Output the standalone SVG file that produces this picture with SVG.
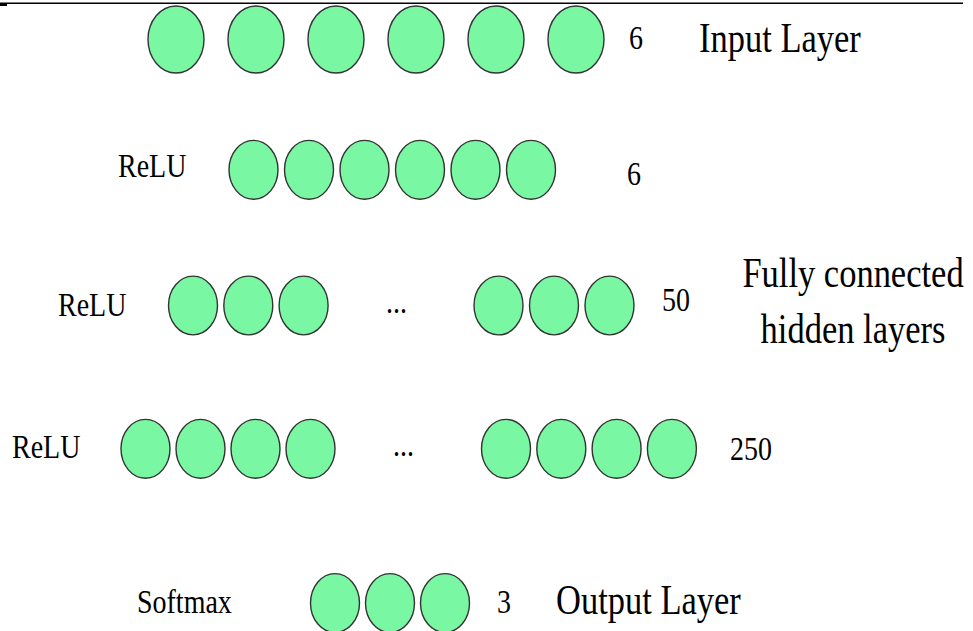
<svg xmlns="http://www.w3.org/2000/svg" width="973" height="631" viewBox="0 0 973 631">
  <style>
    .n { fill: #79F7A3; stroke: #333; stroke-width: 1.4; }
    .t { font-family: "Liberation Serif", "Times New Roman", serif; fill: #000; }
    .s { font-size: 28px; }
    .l { font-size: 34.5px; }
  </style>
  <rect width="973" height="631" fill="#fff"/>
  <!-- top rule -->
  <line x1="0" y1="3.3" x2="963" y2="3.3" stroke="#000" stroke-width="1.6"/>
  <rect x="0" y="3" width="7" height="3" fill="#000"/>

  <g id="connectors"/>

  <!-- input layer: 6 units -->
  <g id="input-layer">
    <g id="in-1"><ellipse class="n" cx="176" cy="39.5" rx="28" ry="33.5"/></g>
    <g id="in-2"><ellipse class="n" cx="256" cy="39.5" rx="28" ry="33.5"/></g>
    <g id="in-3"><ellipse class="n" cx="336" cy="39.5" rx="28" ry="33.5"/></g>
    <g id="in-4"><ellipse class="n" cx="416" cy="39.5" rx="28" ry="33.5"/></g>
    <g id="in-5"><ellipse class="n" cx="496" cy="39.5" rx="28" ry="33.5"/></g>
    <g id="in-6"><ellipse class="n" cx="576" cy="39.5" rx="28" ry="33.5"/></g>
    <text class="t s" transform="translate(629,49) scale(1,1.2)">6</text>
    <text class="t l" transform="translate(699,52) scale(1,1.2)">Input Layer</text>
  </g>

  <!-- hidden layer 1: 6 units -->
  <g id="hidden-1">
    <g id="h1-1"><ellipse class="n" cx="253.5" cy="169.8" rx="24.5" ry="29.4"/></g>
    <g id="h1-2"><ellipse class="n" cx="309" cy="169.8" rx="24.5" ry="29.4"/></g>
    <g id="h1-3"><ellipse class="n" cx="364.5" cy="169.8" rx="24.5" ry="29.4"/></g>
    <g id="h1-4"><ellipse class="n" cx="420" cy="169.8" rx="24.5" ry="29.4"/></g>
    <g id="h1-5"><ellipse class="n" cx="475.5" cy="169.8" rx="24.5" ry="29.4"/></g>
    <g id="h1-6"><ellipse class="n" cx="531" cy="169.8" rx="24.5" ry="29.4"/></g>
    <text class="t s" transform="translate(118,177) scale(1,1.2)">ReLU</text>
    <text class="t s" transform="translate(627,185) scale(1,1.2)">6</text>
  </g>

  <!-- hidden layer 2: 50 units -->
  <g id="hidden-2">
    <g id="h2-1"><ellipse class="n" cx="193" cy="305.5" rx="24.5" ry="29.4"/></g>
    <g id="h2-2"><ellipse class="n" cx="248.3" cy="305.5" rx="24.5" ry="29.4"/></g>
    <g id="h2-3"><ellipse class="n" cx="303.6" cy="305.5" rx="24.5" ry="29.4"/></g>
    <g id="h2-48"><ellipse class="n" cx="498.5" cy="305.5" rx="24.5" ry="29.4"/></g>
    <g id="h2-49"><ellipse class="n" cx="554" cy="305.5" rx="24.5" ry="29.4"/></g>
    <g id="h2-50"><ellipse class="n" cx="609.5" cy="305.5" rx="24.5" ry="29.4"/></g>
    <text class="t s" transform="translate(58,316) scale(1,1.2)">ReLU</text>
    <text class="t s" transform="translate(386,313) scale(1,1.2)">...</text>
    <text class="t s" transform="translate(662,311) scale(1,1.2)">50</text>
  </g>

  <!-- hidden layer 3: 250 units -->
  <g id="hidden-3">
    <g id="h3-1"><ellipse class="n" cx="145.5" cy="448.8" rx="24.5" ry="29.4"/></g>
    <g id="h3-2"><ellipse class="n" cx="200.5" cy="448.8" rx="24.5" ry="29.4"/></g>
    <g id="h3-3"><ellipse class="n" cx="255.5" cy="448.8" rx="24.5" ry="29.4"/></g>
    <g id="h3-4"><ellipse class="n" cx="310.5" cy="448.8" rx="24.5" ry="29.4"/></g>
    <g id="h3-247"><ellipse class="n" cx="506" cy="448.8" rx="24.5" ry="29.4"/></g>
    <g id="h3-248"><ellipse class="n" cx="561.3" cy="448.8" rx="24.5" ry="29.4"/></g>
    <g id="h3-249"><ellipse class="n" cx="616.6" cy="448.8" rx="24.5" ry="29.4"/></g>
    <g id="h3-250"><ellipse class="n" cx="671.9" cy="448.8" rx="24.5" ry="29.4"/></g>
    <text class="t s" transform="translate(12,458) scale(1,1.2)">ReLU</text>
    <text class="t s" transform="translate(393,456) scale(1,1.2)">...</text>
    <text class="t s" transform="translate(730,460) scale(1,1.2)">250</text>
  </g>

  <!-- caption for the hidden block -->
  <g id="hidden-caption">
    <text class="t l" text-anchor="middle" transform="translate(853,287) scale(1,1.2)">Fully connected</text>
    <text class="t l" text-anchor="middle" transform="translate(853,343) scale(1,1.2)">hidden layers</text>
  </g>

  <!-- output layer: 3 units -->
  <g id="output-layer">
    <g id="out-1"><ellipse class="n" cx="335" cy="603" rx="24.5" ry="29.4"/></g>
    <g id="out-2"><ellipse class="n" cx="390" cy="603" rx="24.5" ry="29.4"/></g>
    <g id="out-3"><ellipse class="n" cx="445" cy="603" rx="24.5" ry="29.4"/></g>
    <text class="t s" transform="translate(137,613) scale(1,1.2)">Softmax</text>
    <text class="t s" transform="translate(497,613) scale(1,1.2)">3</text>
    <text class="t l" transform="translate(556,614) scale(1,1.2)">Output Layer</text>
  </g>
</svg>
